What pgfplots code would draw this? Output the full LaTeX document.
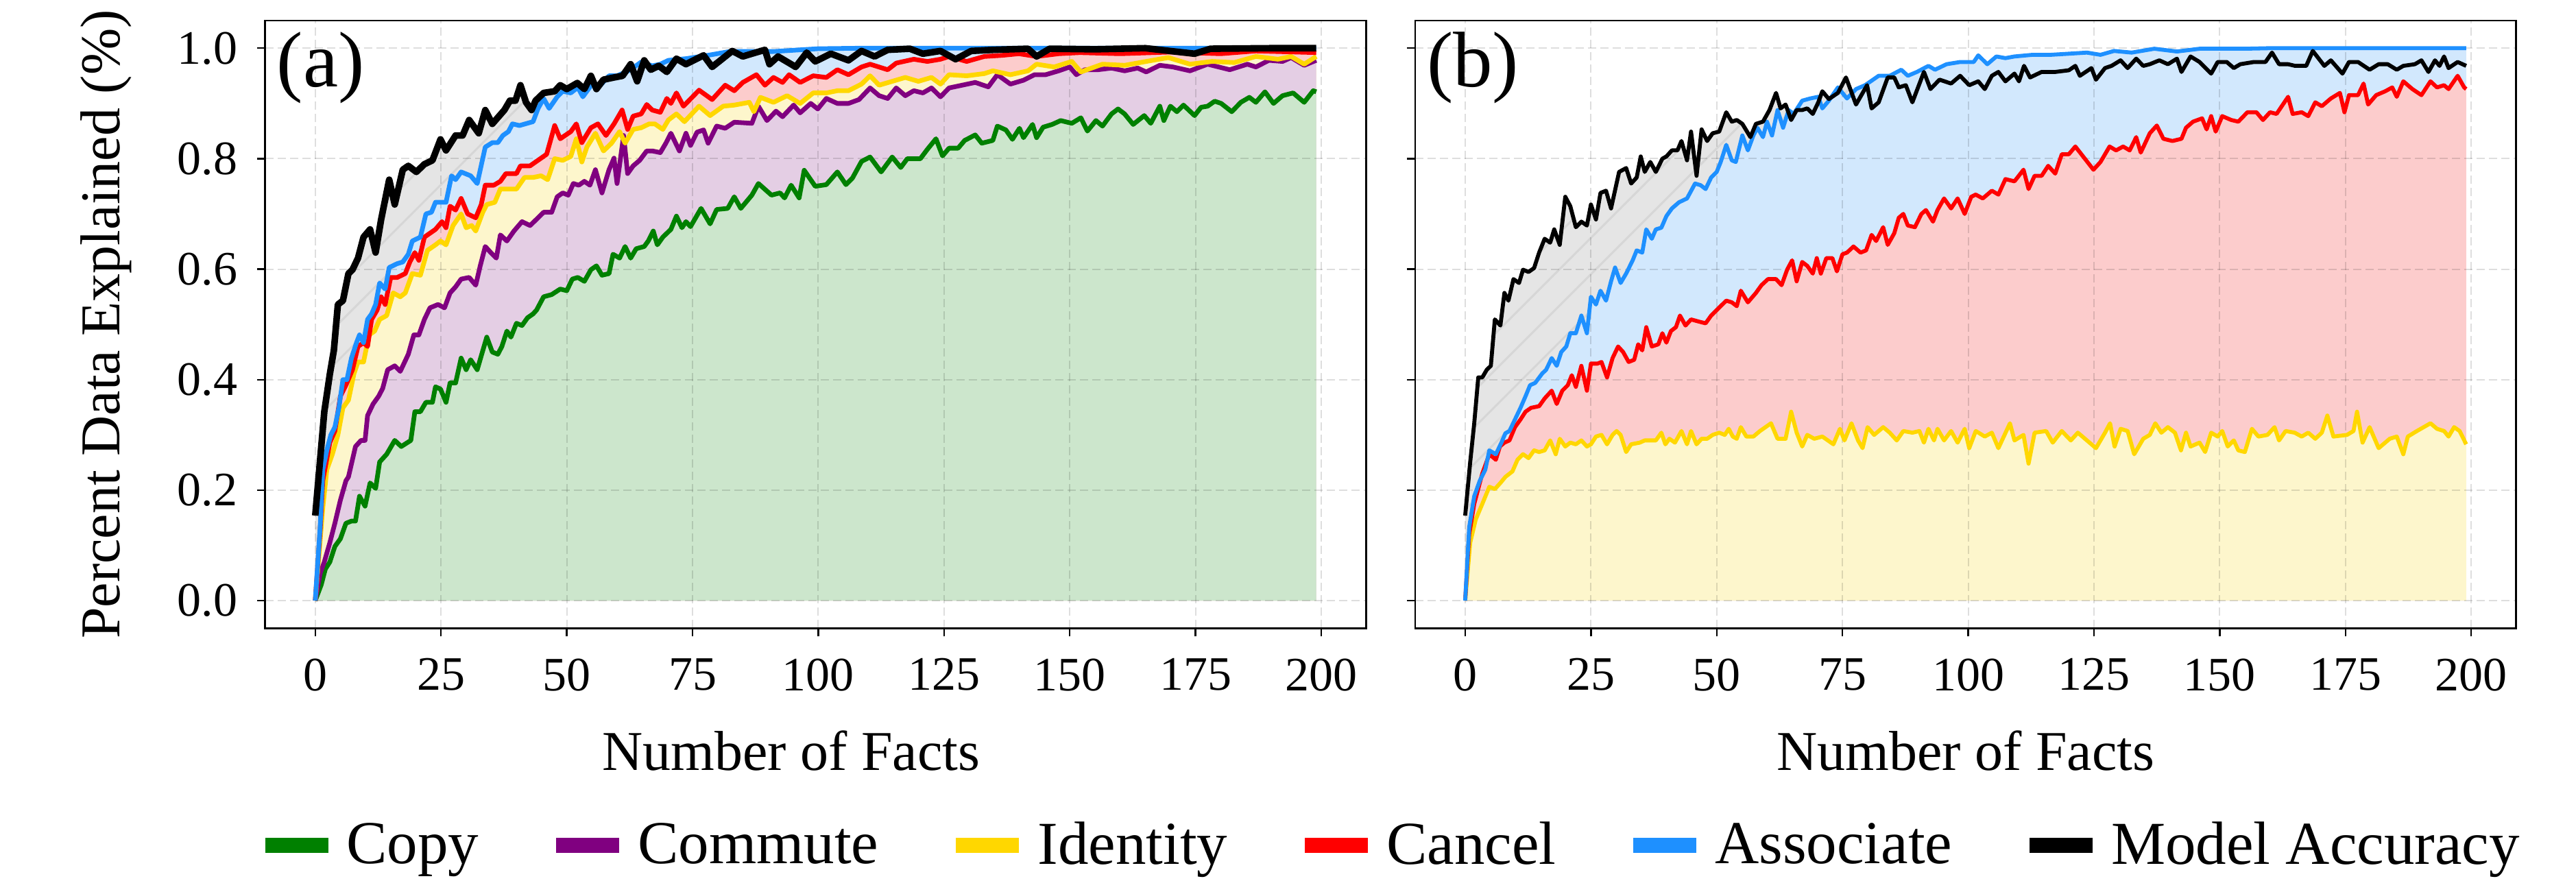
\documentclass[border=0pt]{standalone}
\usepackage{fontspec}
\setmainfont{Liberation Serif}
\usepackage{pgfplots}
\pgfplotsset{compat=1.18}
\usepackage{pgfplotstable}
\usetikzlibrary{patterns.meta}

\definecolor{copyc}{HTML}{008000}
\definecolor{commc}{HTML}{800080}
\definecolor{identc}{HTML}{FFD700}
\definecolor{cancc}{HTML}{FF0000}
\definecolor{assocc}{HTML}{1E90FF}
\definecolor{copyf}{HTML}{CCE6CC}
\definecolor{commf}{HTML}{E4CEE4}
\definecolor{identf}{HTML}{FDF6CC}
\definecolor{cancf}{HTML}{FCCCCC}
\definecolor{assocf}{HTML}{D2E8FD}
\definecolor{modelf}{HTML}{E5E5E5}

\newcommand\ticksz{\fontsize{17.5}{18}\selectfont}
\newcommand\labsz{\fontsize{20.5}{22}\selectfont}
\newcommand\legsz{\fontsize{22.25}{24}\selectfont}
\newcommand\pansz{\fontsize{28.75}{30}\selectfont}

% ---------------- panel (a) ----------------
\pgfplotstableread{
x y
0 0.154
1.8 0.342
2.9 0.41
3.7 0.453
4.5 0.536
5.5 0.543
6.6 0.592
7.4 0.599
8.5 0.62
9.6 0.658
10.9 0.672
12.0 0.63
13.1 0.69
14.7 0.762
15.8 0.717
17.4 0.78
18.5 0.787
20.1 0.776
21.7 0.79
23.3 0.797
24.9 0.835
26.0 0.815
27.9 0.842
29.3 0.842
30.6 0.87
32.5 0.846
33.8 0.888
35.2 0.863
37.6 0.888
38.7 0.905
39.8 0.905
40.8 0.933
41.9 0.902
43.0 0.888
43.8 0.905
45.4 0.919
47.6 0.922
48.7 0.933
50.0 0.926
52.1 0.937
53.5 0.926
54.8 0.95
55.9 0.926
57.3 0.943
59.4 0.947
61.1 0.95
62.7 0.971
64.0 0.94
65.4 0.978
66.7 0.961
68.3 0.968
69.9 0.957
71.8 0.981
73.7 0.971
77.2 0.987
78.9 0.966
82.9 0.995
85.0 0.985
86.8 0.99
89.4 0.997
90.3 0.971
92.0 0.985
94.6 0.971
95.5 0.966
97.7 0.992
99.4 0.976
102.5 0.99
106.0 0.978
108.6 0.995
111.2 0.985
113.8 0.997
118.2 0.999
120.8 0.99
124.3 0.995
127.3 0.98
130.4 0.995
134.7 0.997
141.7 0.999
143.4 0.985
146.0 0.999
155 0.998
165 1.0
174.8 0.99
178 0.999
190 1.0
199 1.0
}\aModel

\pgfplotstableread{
x y
0 0
0.97 0.133
1.5 0.237
2.3 0.272
3.1 0.3
3.9 0.314
4.7 0.349
5.5 0.4
6.3 0.4
7.2 0.439
8.2 0.467
8.8 0.481
9.6 0.467
10.4 0.509
11.2 0.519
12.0 0.536
12.8 0.575
13.9 0.564
14.7 0.603
16.3 0.61
17.4 0.613
18.5 0.627
19.3 0.651
20.9 0.658
22.0 0.7
23.1 0.703
23.9 0.721
26.0 0.721
27.1 0.769
27.9 0.762
29.0 0.776
30.9 0.769
32.2 0.755
33.8 0.821
35.2 0.829
36.3 0.829
37.3 0.842
38.4 0.849
39.2 0.863
40.6 0.86
43.3 0.867
44.3 0.891
45.4 0.909
46.5 0.891
48.1 0.912
49.2 0.922
50.8 0.919
52.2 0.929
53.2 0.912
55.1 0.936
56.7 0.933
58.4 0.95
60.0 0.95
61.0 0.954
62.7 0.961
64.8 0.975
67.0 0.968
68.6 0.971
70.2 0.978
73.7 0.981
78.0 0.987
82.4 0.994
91.1 0.994
99.9 0.999
108.6 1.0
199 1.0
}\aAssoc

\pgfplotstableread{
x y
0 0
1.0 0.13
1.5 0.217
2.9 0.286
3.9 0.307
5.0 0.37
6.1 0.39
7.4 0.418
8.5 0.46
9.6 0.467
10.4 0.46
11.2 0.509
12.3 0.526
13.1 0.55
13.9 0.536
15.0 0.585
16.3 0.585
17.9 0.592
18.8 0.613
19.8 0.63
20.6 0.616
21.7 0.658
23.9 0.672
25.2 0.686
26.0 0.675
26.8 0.714
27.9 0.707
29.0 0.728
30.3 0.7
31.9 0.693
33.0 0.717
33.8 0.752
35.5 0.752
36.8 0.759
37.9 0.773
40.0 0.773
40.8 0.787
42.7 0.787
43.8 0.794
46.0 0.808
47.6 0.86
48.7 0.836
50.8 0.849
51.9 0.863
53.0 0.829
54.8 0.856
56.2 0.863
57.8 0.842
59.4 0.863
61.0 0.888
62.1 0.853
63.2 0.877
64.8 0.881
65.9 0.898
67.0 0.888
68.6 0.884
69.9 0.909
70.7 0.9
71.8 0.919
73.2 0.895
76.3 0.924
78.9 0.907
81.5 0.933
83.3 0.923
85.0 0.938
87.7 0.952
89.4 0.933
91.1 0.947
92.9 0.938
94.2 0.952
96.4 0.938
99.0 0.95
101.6 0.947
103.8 0.961
106.0 0.952
108.6 0.966
110.3 0.971
113.8 0.961
115.5 0.973
119.0 0.98
121.7 0.976
124.3 0.98
126.0 0.985
129.5 0.976
133.0 0.985
136.5 0.987
139.9 0.99
143.4 0.985
147.8 0.99
152.0 0.992
160 0.99
170 0.993
180 0.99
187 0.995
199 0.992
}\aCancel

\pgfplotstableread{
x y
0 0
1.5 0.168
2.3 0.237
3.4 0.265
4.5 0.3
5.5 0.349
6.6 0.363
7.7 0.411
8.5 0.432
9.6 0.432
10.7 0.481
11.8 0.488
12.8 0.509
14.2 0.516
15.5 0.557
16.9 0.55
17.9 0.557
19.3 0.592
20.9 0.589
22.3 0.634
23.9 0.644
24.9 0.651
26.0 0.644
27.4 0.679
29.0 0.7
30.0 0.675
31.1 0.679
31.9 0.669
33.3 0.703
34.1 0.717
35.7 0.721
36.8 0.745
40.0 0.745
41.6 0.766
43.3 0.766
44.9 0.769
46.2 0.762
47.6 0.8
49.2 0.797
50.8 0.804
51.9 0.836
53.0 0.794
54.0 0.821
55.7 0.846
57.3 0.814
58.9 0.828
60.5 0.849
61.6 0.828
63.2 0.853
64.8 0.856
66.4 0.863
67.5 0.863
69.1 0.853
70.2 0.87
71.8 0.881
73.4 0.867
76.3 0.895
78.5 0.878
81.1 0.895
83.3 0.897
86.3 0.902
87.2 0.885
88.5 0.911
91.1 0.902
93.8 0.914
96.4 0.9
99.0 0.919
101.6 0.919
103.8 0.923
106.0 0.923
108.6 0.935
110.3 0.95
112.1 0.933
114.7 0.94
117.3 0.947
119.9 0.94
122.5 0.947
124.3 0.935
126.0 0.952
129.5 0.95
133.0 0.954
134.7 0.959
138.2 0.952
141.7 0.959
143.4 0.971
146.9 0.966
150.4 0.976
152.2 0.957
156.5 0.971
160.9 0.969
165.2 0.976
169.6 0.983
173.9 0.971
178.3 0.976
182.7 0.974
187.0 0.985
191.4 0.98
194.0 0.985
196.6 0.971
199.0 0.985
}\aIdent

\pgfplotstableread{
x y
0 0
1.0 0.05
1.8 0.07
2.9 0.105
3.9 0.14
5.0 0.182
6.1 0.217
6.6 0.224
8.0 0.279
9.1 0.29
9.9 0.29
10.4 0.335
11.5 0.356
12.6 0.37
13.4 0.384
14.4 0.418
15.8 0.425
16.9 0.415
18.5 0.446
19.6 0.481
20.6 0.481
21.7 0.509
22.8 0.53
24.4 0.536
25.7 0.53
26.8 0.557
27.9 0.568
29.0 0.582
30.6 0.585
31.9 0.571
32.8 0.606
33.8 0.641
34.9 0.63
36.0 0.62
36.8 0.662
38.1 0.651
39.5 0.669
41.1 0.686
42.7 0.679
44.3 0.693
45.4 0.703
47.0 0.703
48.1 0.731
49.2 0.738
50.3 0.734
51.3 0.755
52.4 0.752
53.5 0.759
54.6 0.752
55.7 0.78
57.0 0.738
58.4 0.78
59.4 0.801
60.0 0.755
61.3 0.842
62.1 0.773
63.2 0.787
64.5 0.797
65.9 0.814
67.0 0.814
68.6 0.811
69.7 0.828
70.7 0.846
72.4 0.814
73.7 0.846
74.6 0.824
75.9 0.848
77.2 0.852
78.1 0.828
79.8 0.859
81.5 0.855
83.3 0.866
86.8 0.864
88.1 0.895
89.8 0.869
91.6 0.886
92.9 0.876
95.1 0.897
96.4 0.883
98.5 0.9
99.9 0.89
101.6 0.909
103.8 0.9
106.0 0.9
108.1 0.907
110.3 0.928
112.1 0.914
113.8 0.909
115.5 0.928
117.3 0.914
119.0 0.923
120.8 0.919
122.5 0.928
124.3 0.912
126.0 0.928
128.6 0.933
131.2 0.938
133.8 0.93
135.6 0.952
138.2 0.935
140.8 0.942
143.0 0.952
145.2 0.952
147.8 0.959
150.0 0.966
151.3 0.952
153.0 0.961
155.6 0.961
158.3 0.964
160.9 0.959
163.5 0.964
165.2 0.957
167.9 0.969
170.5 0.966
173.9 0.959
177.4 0.971
181.8 0.961
185.3 0.971
187.0 0.966
189.6 0.978
192.3 0.976
194.0 0.983
196.6 0.969
199.0 0.978
}\aComm

\pgfplotstableread{
x y
0 0
1.2 0.029
2.0 0.057
2.9 0.07
3.9 0.098
5.0 0.112
6.1 0.14
7.2 0.144
8.0 0.144
8.8 0.189
9.9 0.171
10.9 0.213
12.0 0.203
12.8 0.251
14.2 0.265
15.8 0.29
17.1 0.279
19.0 0.29
19.8 0.342
20.9 0.342
22.0 0.359
23.3 0.359
23.9 0.387
24.9 0.383
26.0 0.359
26.8 0.394
27.9 0.394
29.0 0.439
30.0 0.418
30.9 0.436
32.2 0.418
33.0 0.443
34.1 0.477
35.2 0.45
36.3 0.446
37.1 0.46
38.1 0.488
38.9 0.477
40.0 0.502
41.1 0.498
42.2 0.512
43.3 0.519
44.0 0.526
45.4 0.55
47.0 0.554
48.7 0.564
50.0 0.561
51.1 0.582
52.2 0.585
53.5 0.578
54.8 0.599
55.9 0.606
57.0 0.589
58.4 0.592
59.2 0.627
60.5 0.62
61.6 0.641
62.7 0.62
63.8 0.637
65.4 0.641
66.2 0.651
67.2 0.669
68.0 0.644
69.1 0.658
70.7 0.672
71.8 0.696
72.9 0.675
73.7 0.686
74.6 0.677
76.7 0.71
78.5 0.682
79.8 0.708
82.0 0.71
83.3 0.731
84.6 0.71
86.8 0.734
88.1 0.755
90.7 0.734
92.4 0.738
93.3 0.729
94.6 0.752
96.2 0.729
97.2 0.779
99.4 0.75
101.6 0.753
103.8 0.776
105.5 0.753
106.8 0.765
108.6 0.795
110.3 0.803
112.5 0.776
114.7 0.803
116.4 0.784
117.7 0.8
120.3 0.8
121.7 0.817
123.4 0.836
124.7 0.805
126.0 0.819
127.8 0.819
129.1 0.833
131.2 0.843
132.5 0.828
134.7 0.833
135.6 0.859
137.3 0.852
138.6 0.835
140.0 0.855
140.8 0.838
142.6 0.862
143.4 0.838
144.7 0.857
146.5 0.862
148.2 0.869
150.4 0.864
152.2 0.874
153.5 0.85
155.2 0.869
156.5 0.859
158.3 0.881
159.6 0.89
160.9 0.881
162.6 0.862
164.8 0.878
166.1 0.864
167.9 0.895
168.7 0.869
170.0 0.895
171.3 0.885
172.6 0.897
174.8 0.878
176.1 0.893
177.4 0.895
178.8 0.904
180.1 0.9
182.2 0.885
184.0 0.902
185.7 0.911
187.0 0.902
188.8 0.921
190.5 0.9
192.3 0.914
194.4 0.919
196.6 0.902
198.4 0.923
199.0 0.921
}\aCopy

% ---------------- panel (b) ----------------
\pgfplotstableread{
x y
0 0.154
1.0 0.251
1.8 0.321
2.6 0.404
3.4 0.404
4.3 0.418
5.1 0.425
5.9 0.509
7.0 0.498
7.8 0.557
8.6 0.543
9.6 0.582
10.7 0.575
11.5 0.599
12.6 0.595
13.7 0.602
14.7 0.63
15.8 0.655
16.9 0.648
17.7 0.672
18.8 0.644
19.9 0.731
20.9 0.714
22.0 0.676
23.1 0.686
24.2 0.679
25.0 0.717
26.0 0.69
26.9 0.738
28.0 0.742
29.0 0.71
30.6 0.776
32.0 0.783
33.0 0.755
34.1 0.766
34.9 0.804
35.7 0.776
36.8 0.794
37.9 0.776
39.2 0.8
40.0 0.804
41.1 0.815
42.2 0.815
43.0 0.832
44.1 0.797
44.9 0.849
46.0 0.769
47.0 0.853
48.1 0.832
49.2 0.846
50.5 0.849
51.9 0.884
53.0 0.867
54.0 0.87
55.1 0.863
56.7 0.839
57.8 0.863
59.2 0.867
60.5 0.888
61.8 0.919
62.7 0.891
63.7 0.898
64.8 0.87
65.9 0.888
67.0 0.888
68.0 0.891
69.1 0.881
70.2 0.902
71.0 0.922
72.3 0.908
74.1 0.919
75.7 0.947
77.7 0.898
79.9 0.933
80.8 0.891
82.2 0.902
84.0 0.947
85.3 0.947
86.2 0.929
87.6 0.933
88.9 0.902
91.2 0.957
92.5 0.926
94.3 0.943
96.6 0.936
98.4 0.95
100.2 0.933
102.0 0.94
103.3 0.926
104.7 0.95
106.0 0.957
107.4 0.94
109.2 0.954
110.1 0.94
111.1 0.968
112.3 0.947
114.6 0.957
117.3 0.957
120.0 0.96
121.3 0.968
122.2 0.95
124.5 0.964
125.4 0.943
127.2 0.964
128.5 0.968
130.3 0.978
131.7 0.964
133.4 0.981
134.8 0.968
136.1 0.971
138.0 0.978
139.7 0.971
141.5 0.981
142.4 0.957
144.2 0.985
146.0 0.975
148.3 0.954
149.6 0.975
151.4 0.975
152.8 0.964
154.1 0.971
156.8 0.975
159.1 0.975
160.4 0.992
161.8 0.971
163.6 0.971
165.0 0.968
167.2 0.968
168.5 0.995
170.8 0.968
172.1 0.978
174.4 0.954
175.7 0.975
177.5 0.975
179.8 0.961
181.6 0.971
183.4 0.971
185.2 0.961
186.5 0.968
188.8 0.971
190.1 0.978
191.5 0.957
192.8 0.978
193.7 0.968
194.6 0.985
195.5 0.964
197.3 0.975
199.0 0.968
}\bModel

\pgfplotstableread{
x y
0 0
0.8 0.133
1.8 0.189
2.9 0.217
4.0 0.237
4.8 0.272
6.1 0.265
7.2 0.286
8.0 0.303
8.8 0.307
9.9 0.328
11.0 0.349
12.0 0.37
12.9 0.39
13.9 0.394
15.3 0.411
16.1 0.418
17.2 0.439
18.2 0.425
19.1 0.45
20.1 0.46
20.9 0.484
22.0 0.484
23.1 0.516
24.2 0.484
25.0 0.55
26.0 0.536
26.9 0.561
28.0 0.543
29.0 0.578
29.8 0.603
30.9 0.575
32.0 0.592
33.3 0.616
34.1 0.634
35.2 0.63
36.0 0.672
37.1 0.655
37.9 0.672
39.0 0.675
40.0 0.696
41.1 0.71
42.5 0.721
44.1 0.728
45.7 0.755
46.8 0.752
47.8 0.745
48.9 0.766
50.0 0.776
50.8 0.794
51.9 0.825
53.0 0.797
53.8 0.794
55.1 0.842
56.2 0.815
57.3 0.842
58.1 0.856
59.2 0.839
60.0 0.867
61.0 0.842
62.1 0.888
63.2 0.856
64.3 0.888
65.3 0.881
67.0 0.905
68.6 0.909
70.2 0.912
71.0 0.891
72.3 0.905
74.1 0.929
75.9 0.909
77.7 0.926
79.5 0.933
82.2 0.95
84.4 0.95
86.7 0.961
88.0 0.95
89.8 0.957
92.1 0.968
93.4 0.961
95.7 0.971
98.4 0.975
101.1 0.975
102.0 0.987
103.8 0.971
105.6 0.985
107.4 0.982
109.2 0.985
112.8 0.988
116.4 0.988
120.0 0.99
123.6 0.992
126.3 0.988
129.0 0.995
132.5 0.992
137.0 0.999
141.5 0.994
146.0 0.999
155.0 0.999
160.0 1.0
199.0 1.0
}\bAssoc

\pgfplotstableread{
x y
0 0
0.8 0.12
1.8 0.175
3.4 0.23
4.8 0.265
6.1 0.255
6.9 0.279
7.8 0.286
8.8 0.29
9.9 0.314
11.0 0.328
12.0 0.342
13.1 0.349
14.7 0.352
15.8 0.366
17.2 0.38
18.2 0.356
19.3 0.38
20.4 0.39
21.2 0.408
22.0 0.387
23.1 0.425
24.2 0.38
25.0 0.429
26.3 0.429
27.1 0.432
28.2 0.404
29.3 0.439
30.4 0.46
31.4 0.45
32.5 0.432
33.6 0.436
34.4 0.464
35.2 0.453
36.0 0.495
37.1 0.46
38.4 0.464
39.2 0.484
40.0 0.467
40.9 0.488
41.9 0.495
42.7 0.516
43.8 0.498
44.9 0.509
46.5 0.505
47.8 0.502
48.9 0.516
50.0 0.526
51.9 0.543
53.0 0.54
54.0 0.533
54.8 0.561
56.2 0.54
57.8 0.557
58.9 0.571
60.2 0.582
61.8 0.582
62.9 0.571
64.0 0.599
65.0 0.616
65.9 0.578
67.0 0.613
68.0 0.606
69.1 0.592
69.9 0.62
70.7 0.592
71.8 0.62
73.0 0.62
73.9 0.596
75.0 0.627
75.9 0.63
77.2 0.641
78.6 0.63
79.7 0.634
80.8 0.662
81.7 0.651
83.1 0.676
84.0 0.644
85.3 0.665
86.2 0.693
87.1 0.7
88.0 0.679
89.4 0.676
90.7 0.7
91.6 0.707
93.0 0.686
93.9 0.707
95.2 0.728
96.6 0.71
97.9 0.728
99.3 0.7
100.6 0.731
101.5 0.735
102.9 0.728
104.7 0.742
106.0 0.735
107.4 0.763
109.2 0.759
111.0 0.78
112.0 0.745
113.2 0.769
114.6 0.769
115.9 0.787
117.3 0.773
118.6 0.808
120.0 0.808
121.3 0.822
123.1 0.801
124.9 0.78
126.3 0.794
128.1 0.822
129.4 0.815
130.8 0.822
132.1 0.815
133.4 0.839
134.3 0.811
136.1 0.846
137.5 0.86
138.8 0.836
140.6 0.832
142.4 0.836
143.3 0.856
144.7 0.867
146.5 0.873
147.4 0.853
148.3 0.877
149.2 0.849
150.5 0.877
152.3 0.87
153.7 0.867
155.5 0.884
157.3 0.884
158.6 0.87
160.0 0.884
161.3 0.881
163.6 0.912
164.5 0.881
166.3 0.884
167.6 0.877
169.0 0.902
170.3 0.895
172.1 0.909
173.9 0.919
174.8 0.884
175.7 0.915
177.5 0.915
178.6 0.936
179.5 0.898
181.1 0.915
182.9 0.922
184.3 0.929
185.2 0.912
186.5 0.94
188.3 0.926
190.1 0.915
191.9 0.94
193.2 0.929
194.6 0.933
195.5 0.926
197.3 0.95
198.6 0.929
199.0 0.926
}\bCancel

\pgfplotstableread{
x y
0 0
1.0 0.105
2.1 0.147
3.4 0.175
4.8 0.206
5.9 0.202
7.0 0.213
8.0 0.224
9.4 0.234
10.4 0.255
11.5 0.265
12.6 0.258
13.7 0.272
14.7 0.269
15.8 0.272
16.9 0.29
18.0 0.265
18.8 0.293
19.9 0.279
20.9 0.286
22.0 0.283
23.1 0.29
24.2 0.279
25.0 0.283
26.0 0.297
27.1 0.3
28.2 0.283
29.3 0.3
30.1 0.307
30.9 0.3
32.0 0.269
33.0 0.283
34.7 0.286
35.7 0.29
37.9 0.29
39.0 0.304
39.8 0.283
40.6 0.293
41.7 0.286
43.0 0.307
44.1 0.283
44.9 0.307
46.0 0.283
47.0 0.293
48.1 0.293
49.2 0.3
50.5 0.304
51.6 0.3
52.4 0.311
53.2 0.297
54.0 0.293
54.8 0.314
55.9 0.297
57.3 0.297
58.6 0.307
59.7 0.314
60.8 0.321
62.1 0.293
63.7 0.293
64.8 0.342
65.9 0.304
67.0 0.279
68.0 0.3
69.4 0.293
71.0 0.297
73.2 0.283
74.5 0.311
75.4 0.29
76.8 0.321
78.1 0.29
79.0 0.276
80.0 0.314
81.3 0.3
83.1 0.314
84.4 0.304
85.8 0.29
87.1 0.307
88.9 0.304
90.3 0.307
91.2 0.286
92.1 0.311
93.2 0.29
93.9 0.311
95.2 0.29
96.6 0.307
97.9 0.286
99.3 0.311
100.2 0.276
101.5 0.307
103.3 0.297
104.7 0.304
106.0 0.276
108.3 0.321
109.2 0.29
111.0 0.3
112.0 0.248
113.2 0.304
115.5 0.307
116.8 0.286
118.6 0.307
120.4 0.29
121.8 0.304
123.6 0.29
125.4 0.276
127.2 0.304
128.2 0.321
129.1 0.279
130.3 0.311
131.7 0.307
133.0 0.265
134.8 0.293
136.1 0.3
137.2 0.321
138.4 0.304
139.7 0.314
141.1 0.304
142.3 0.272
143.3 0.304
144.2 0.279
146.0 0.286
147.1 0.269
148.3 0.304
149.6 0.297
150.5 0.307
151.6 0.279
152.8 0.29
153.7 0.272
155.0 0.269
156.4 0.311
157.7 0.297
159.5 0.3
160.9 0.314
161.8 0.29
163.1 0.307
164.9 0.304
166.3 0.297
167.6 0.304
169.0 0.293
170.3 0.304
171.4 0.335
172.6 0.297
175.3 0.3
176.6 0.307
177.3 0.342
178.4 0.286
179.8 0.314
181.6 0.276
183.8 0.293
185.2 0.297
186.5 0.265
187.4 0.297
189.2 0.307
191.9 0.321
193.2 0.311
194.6 0.307
195.5 0.297
196.6 0.314
197.7 0.307
199.0 0.283
}\bIdent

\pgfplotsset{
  panel/.style={
    set layers,
    scale only axis, width=401.5pt, height=221.6pt,
    anchor=south west,
    xmin=-9.95, xmax=208.95, ymin=-0.05, ymax=1.05,
    xtick={0,25,50,75,100,125,150,175,200},
    xticklabels={0,25,50,75,100,125,150,175,200},
    ytick={0,0.2,0.4,0.6,0.8,1},
    yticklabels={0.0,0.2,0.4,0.6,0.8,1.0},
    tick align=outside, xtick pos=bottom, ytick pos=left,
    major tick length=3pt,
    major tick style={black, line width=0.6pt},
    axis line style={line width=0.7pt},
    grid=major,
    grid style={dash pattern=on 3pt off 1.5pt, black, opacity=0.13, line width=0.5pt},
    tick label style={font=\ticksz},
    xticklabel style={yshift=-4.5pt},
    yticklabel style={xshift=-3.6pt},
    xlabel={Number of Facts},
    xlabel style={font=\labsz, anchor=center},
    clip mode=individual,
  },
  fillpl/.style={draw=none, fill=#1, on layer=axis background, forget plot},
  hatchpl/.style={draw=none, on layer=axis background, forget plot,
    pattern={Lines[angle=45, distance=9.4pt, line width=0.75pt]}, pattern color=black!16},
  linepl/.style={draw=#1, line width=1.7pt, line join=round, no marks, forget plot},
}

\begin{document}
\begin{tikzpicture}
\begin{axis}[panel, at={(0pt,0pt)},
  xlabel style={at={(axis description cs:0.4776,-0.2013)}},
  ylabel={Percent Data Explained (\%)},
  ylabel style={font=\labsz, at={(axis description cs:-0.1442,0.5)}, anchor=center},
  legend columns=6,
  legend style={at={(1.0202,-0.357)}, anchor=center, draw=none, fill=none,
    font=\legsz, inner sep=0pt, nodes={inner sep=0pt},
    /tikz/every odd column/.append style={column sep=4pt},
    /tikz/every even column/.append style={column sep=25.5pt}},
  legend image code/.code={\draw[#1, line width=5.5pt] (0pt,0pt) -- (23pt,0pt);},
]
\addplot[fillpl=modelf] table {\aModel} \closedcycle;
\addplot[hatchpl] table {\aModel} \closedcycle;
\addplot[fillpl=assocf] table {\aAssoc} \closedcycle;
\addplot[fillpl=cancf] table {\aCancel} \closedcycle;
\addplot[fillpl=identf] table {\aIdent} \closedcycle;
\addplot[fillpl=commf] table {\aComm} \closedcycle;
\addplot[fillpl=copyf] table {\aCopy} \closedcycle;

\addplot[linepl=copyc] table {\aCopy};
\addplot[linepl=commc] table {\aComm};
\addplot[linepl=identc] table {\aIdent};
\addplot[linepl=cancc] table {\aCancel};
\addplot[linepl=assocc] table {\aAssoc};
\addplot[linepl=black, line width=2.4pt] table {\aModel};

\addlegendimage{draw=copyc}
\addlegendentry{Copy}
\addlegendimage{draw=commc}
\addlegendentry{Commute}
\addlegendimage{draw=identc}
\addlegendentry{Identity}
\addlegendimage{draw=cancc}
\addlegendentry{Cancel}
\addlegendimage{draw=assocc}
\addlegendentry{Associate}
\addlegendimage{draw=black}
\addlegendentry{Model Accuracy}

\node[anchor=west, inner sep=0pt, font=\pansz] at (rel axis cs:0.0102,0.922) {(a)};
\end{axis}

\begin{axis}[panel, at={(419.3pt,0pt)}, yticklabels={},
  xlabel style={at={(axis description cs:0.5,-0.2013)}}]
\addplot[fillpl=modelf] table {\bModel} \closedcycle;
\addplot[hatchpl] table {\bModel} \closedcycle;
\addplot[fillpl=assocf] table {\bAssoc} \closedcycle;
\addplot[fillpl=cancf] table {\bCancel} \closedcycle;
\addplot[fillpl=identf] table {\bIdent} \closedcycle;

\addplot[linepl=identc, line width=1.45pt] table {\bIdent};
\addplot[linepl=cancc, line width=1.45pt] table {\bCancel};
\addplot[linepl=assocc, line width=1.45pt] table {\bAssoc};
\addplot[linepl=black, line width=1.45pt] table {\bModel};

\node[anchor=west, inner sep=0pt, font=\pansz] at (rel axis cs:0.0102,0.922) {(b)};
\end{axis}
\pgfresetboundingbox
\path[use as bounding box] (-96.7pt,-92.1pt) rectangle (842.6pt,229.1pt);
\end{tikzpicture}
\end{document}
